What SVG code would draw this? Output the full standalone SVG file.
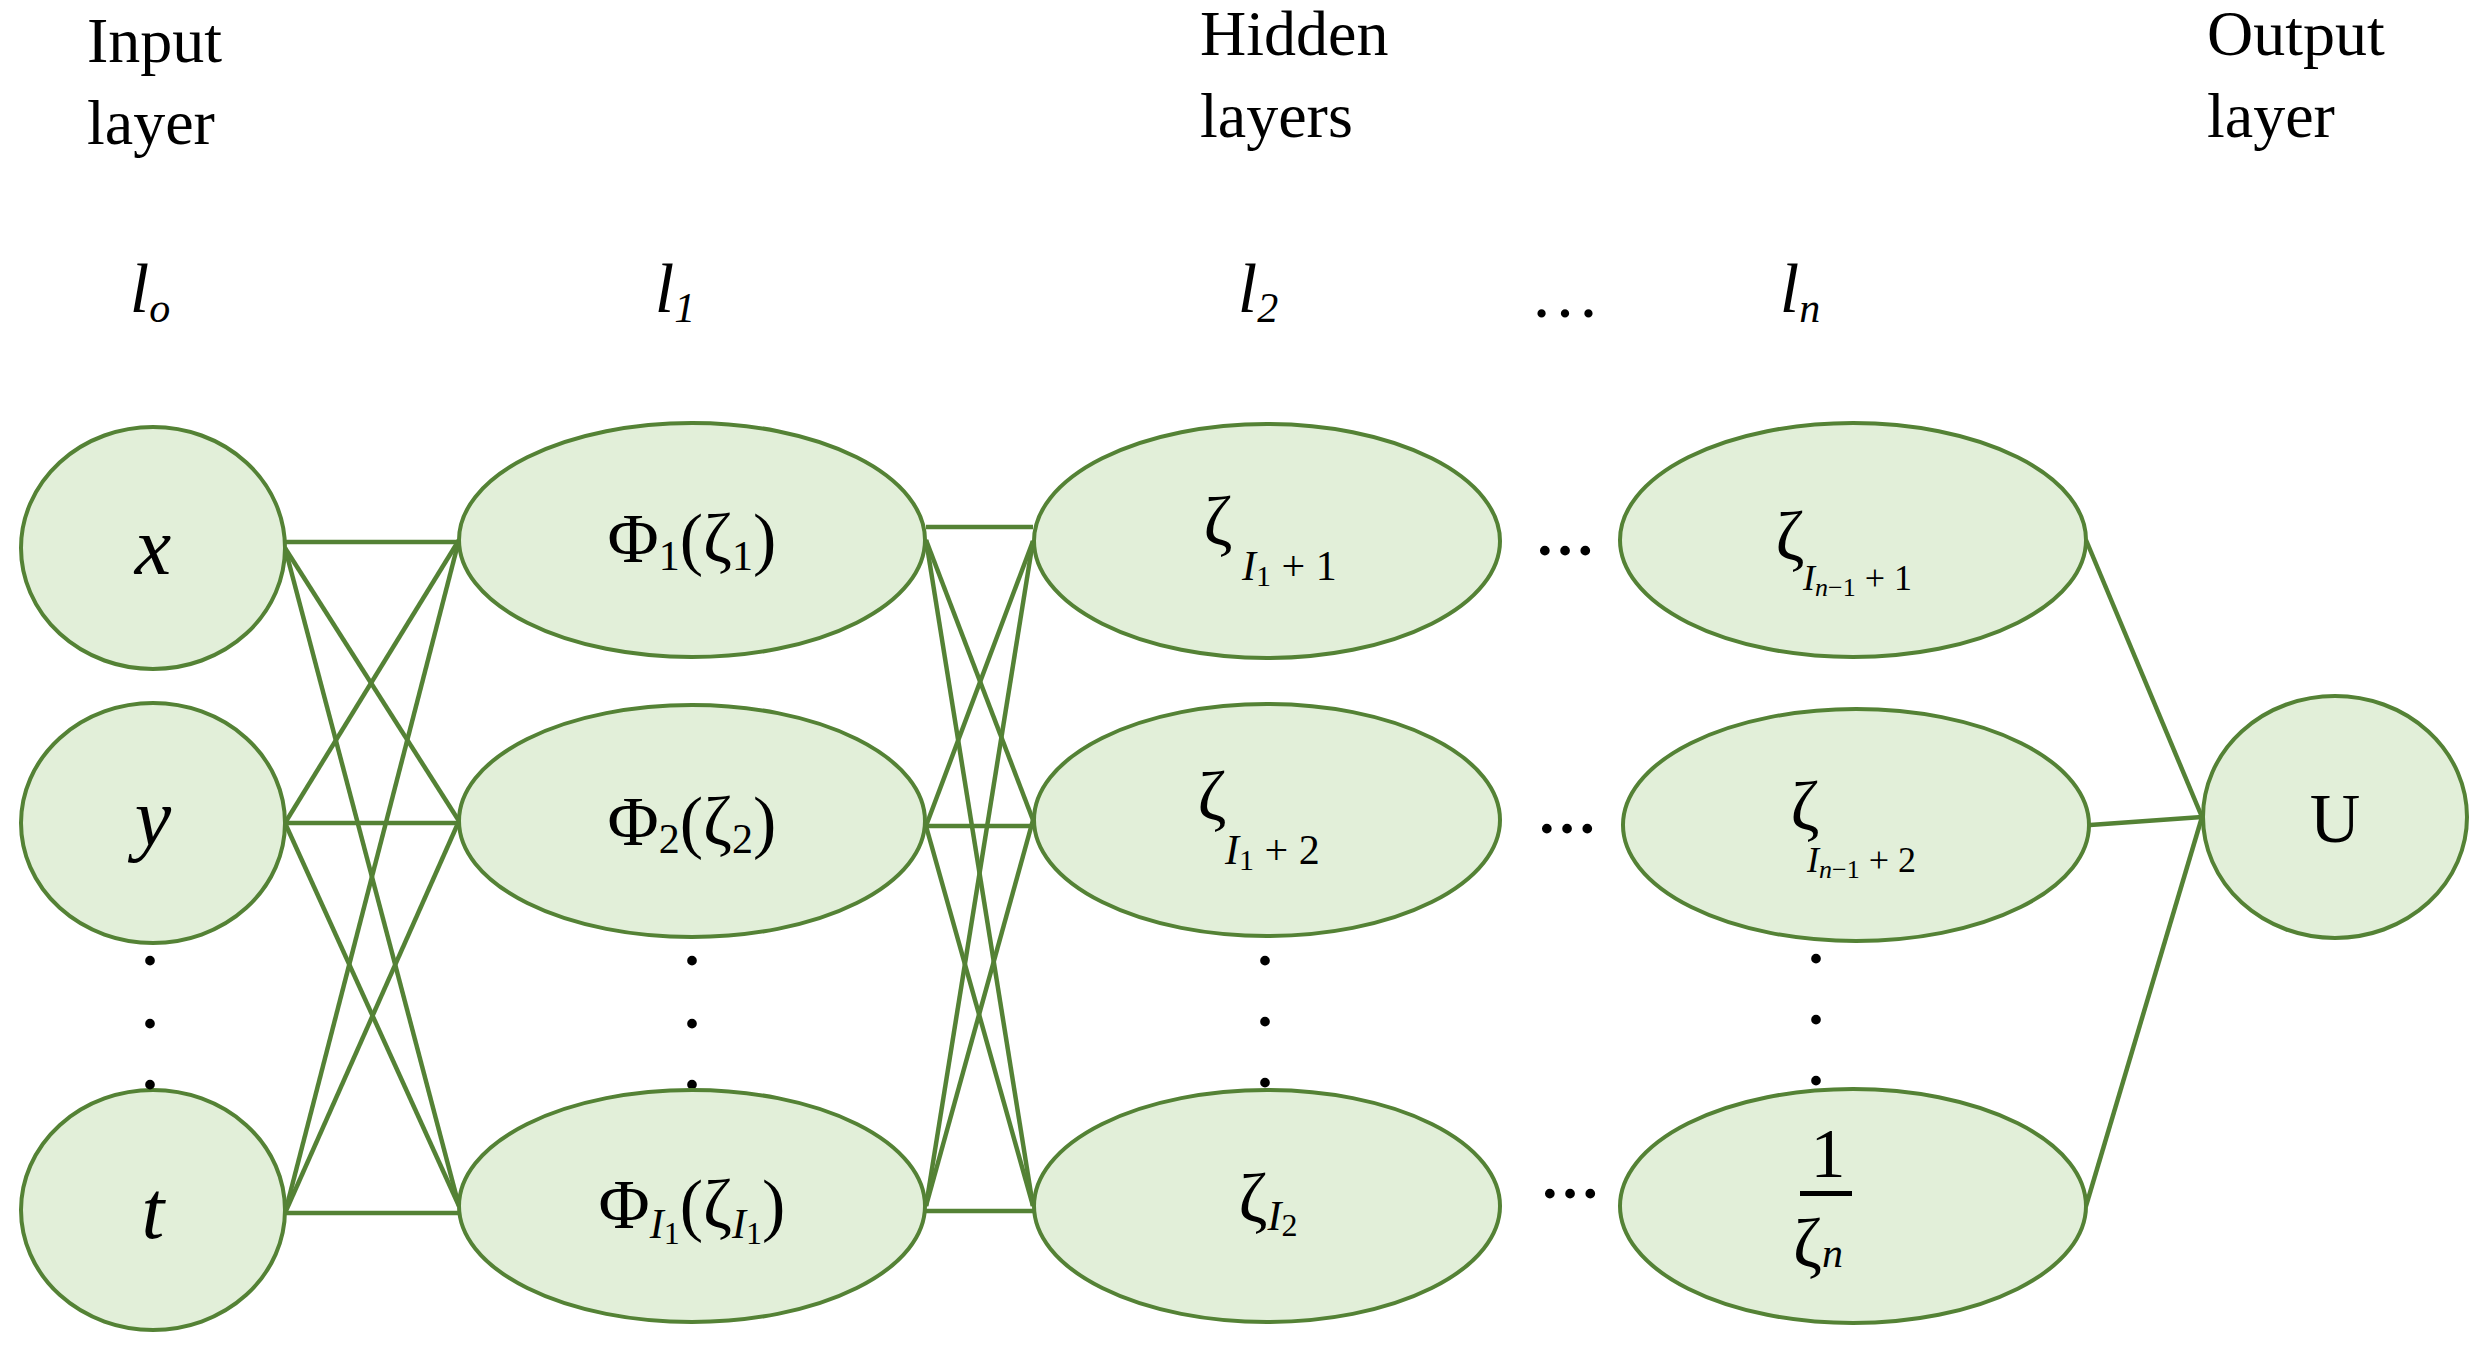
<svg xmlns="http://www.w3.org/2000/svg" width="2484" height="1357" viewBox="0 0 2484 1357">
<style>
.n{fill:#e2efd9;stroke:#548235;stroke-width:4}
.c line{stroke:#548235;stroke-width:4.5}
text{font-family:"Liberation Serif",serif;fill:#000}
.h{font-size:64px}
.m{font-size:70px;text-anchor:middle}
.b{font-size:82px}
.i{font-style:italic}
.s{font-size:42px}
.d{font-size:60px;text-anchor:middle;font-weight:bold}
</style>
<rect width="2484" height="1357" fill="#fff"/>
<g id="titles" class="h">
<text x="87" y="62">Input</text><text x="87" y="144">layer</text>
<text x="1200" y="55">Hidden</text><text x="1200" y="137">layers</text>
<text x="2207" y="55">Output</text><text x="2207" y="137">layer</text>
</g>
<g id="layer-labels" class="m i">
<text x="150" y="312">l<tspan class="s" dy="10">o</tspan></text>
<text x="675" y="312">l<tspan class="s" dy="10">1</tspan></text>
<text x="1258" y="312">l<tspan class="s" dy="10">2</tspan></text>
<text x="1565" y="317" font-style="normal">…</text>
<text x="1800" y="312">l<tspan class="s" dy="10">n</tspan></text>
</g>
<g class="c" id="connectors">
<line x1="285" y1="542" x2="459" y2="542"/>
<line x1="285" y1="548" x2="459" y2="821"/>
<line x1="285" y1="548" x2="459" y2="1206"/>
<line x1="285" y1="823" x2="459" y2="540"/>
<line x1="285" y1="823" x2="459" y2="823"/>
<line x1="285" y1="823" x2="459" y2="1206"/>
<line x1="285" y1="1213" x2="459" y2="540"/>
<line x1="285" y1="1213" x2="459" y2="821"/>
<line x1="285" y1="1213" x2="459" y2="1213"/>
<line x1="926" y1="527" x2="1033" y2="527"/>
<line x1="926" y1="540" x2="1033" y2="820"/>
<line x1="926" y1="540" x2="1033" y2="1206"/>
<line x1="926" y1="826" x2="1033" y2="541"/>
<line x1="926" y1="826" x2="1033" y2="826"/>
<line x1="926" y1="826" x2="1033" y2="1206"/>
<line x1="926" y1="1206" x2="1033" y2="541"/>
<line x1="926" y1="1206" x2="1033" y2="820"/>
<line x1="926" y1="1211" x2="1033" y2="1211"/>
<line x1="2086" y1="540" x2="2202" y2="817"/>
<line x1="2090" y1="825" x2="2202" y2="817"/>
<line x1="2086" y1="1206" x2="2202" y2="817"/>
</g>
<g id="n-x"><ellipse class="n" cx="153" cy="548" rx="132" ry="121"/><text class="m i b" x="153" y="574">x</text></g>
<g id="n-y"><ellipse class="n" cx="153" cy="823" rx="132" ry="120"/><text class="m i b" x="153" y="845">y</text></g>
<g id="n-t"><ellipse class="n" cx="153" cy="1210" rx="132" ry="120"/><text class="m i b" x="153" y="1238">t</text></g>
<g id="dots" class="d">
<text x="150" y="965">.</text><text x="150" y="1028">.</text><text x="150" y="1089">.</text>
<text x="692" y="965">.</text><text x="692" y="1028">.</text><text x="692" y="1089">.</text>
<text x="1265" y="965">.</text><text x="1265" y="1026">.</text><text x="1265" y="1087">.</text>
<text x="1816" y="963">.</text><text x="1816" y="1024">.</text><text x="1816" y="1085">.</text>
<text x="1565" y="555">…</text><text x="1567" y="833">…</text><text x="1570" y="1198">…</text>
</g>
<g id="n-phi1"><ellipse class="n" cx="692" cy="540" rx="233" ry="117"/><text class="m" x="692" y="562">Φ<tspan class="s" dy="8">1</tspan><tspan dy="-8">(ζ</tspan><tspan class="s" dy="8">1</tspan><tspan dy="-8">)</tspan></text></g>
<g id="n-phi2"><ellipse class="n" cx="692" cy="821" rx="233" ry="116"/><text class="m" x="692" y="845">Φ<tspan class="s" dy="8">2</tspan><tspan dy="-8">(ζ</tspan><tspan class="s" dy="8">2</tspan><tspan dy="-8">)</tspan></text></g>
<g id="n-phiI1"><ellipse class="n" cx="692" cy="1206" rx="233" ry="116"/><text class="m" x="692" y="1228">Φ<tspan class="s i" dy="10">I</tspan><tspan font-size="32" dy="6">1</tspan><tspan dy="-16">(ζ</tspan><tspan class="s i" dy="10">I</tspan><tspan font-size="32" dy="6">1</tspan><tspan dy="-16">)</tspan></text></g>
<g id="n-z1"><ellipse class="n" cx="1267" cy="541" rx="233" ry="117"/><text class="m" x="1218" y="545">ζ</text><text class="s" x="1242" y="580"><tspan class="i">I</tspan><tspan font-size="30" dy="6">1</tspan><tspan dy="-6"> + 1</tspan></text></g>
<g id="n-z2"><ellipse class="n" cx="1267" cy="820" rx="233" ry="116"/><text class="m" x="1212" y="820">ζ</text><text class="s" x="1225" y="864"><tspan class="i">I</tspan><tspan font-size="30" dy="6">1</tspan><tspan dy="-6"> + 2</tspan></text></g>
<g id="n-zI2"><ellipse class="n" cx="1267" cy="1206" rx="233" ry="116"/><text class="m" x="1268" y="1222">ζ<tspan class="s i" dy="8">I</tspan><tspan font-size="32" dy="6">2</tspan></text></g>
<g id="n-zn1"><ellipse class="n" cx="1853" cy="540" rx="233" ry="117"/><text class="m" x="1790" y="560">ζ</text><text font-size="36" x="1803" y="590"><tspan class="i">I</tspan><tspan font-size="26" dy="6" class="i">n</tspan><tspan font-size="26">−1</tspan><tspan dy="-6"> + 1</tspan></text></g>
<g id="n-zn2"><ellipse class="n" cx="1856" cy="825" rx="233" ry="116"/><text class="m" x="1805" y="830">ζ</text><text font-size="36" x="1807" y="872"><tspan class="i">I</tspan><tspan font-size="26" dy="6" class="i">n</tspan><tspan font-size="26">−1</tspan><tspan dy="-6"> + 2</tspan></text></g>
<g id="n-zn"><ellipse class="n" cx="1853" cy="1206" rx="233" ry="117"/><text class="m" x="1828" y="1177">1</text><rect x="1800" y="1191" width="52" height="5"/><text class="m" x="1818" y="1267">ζ<tspan class="s i">n</tspan></text></g>
<g id="n-U"><ellipse class="n" cx="2335" cy="817" rx="132" ry="121"/><text class="m" x="2335" y="842">U</text></g>
</svg>
